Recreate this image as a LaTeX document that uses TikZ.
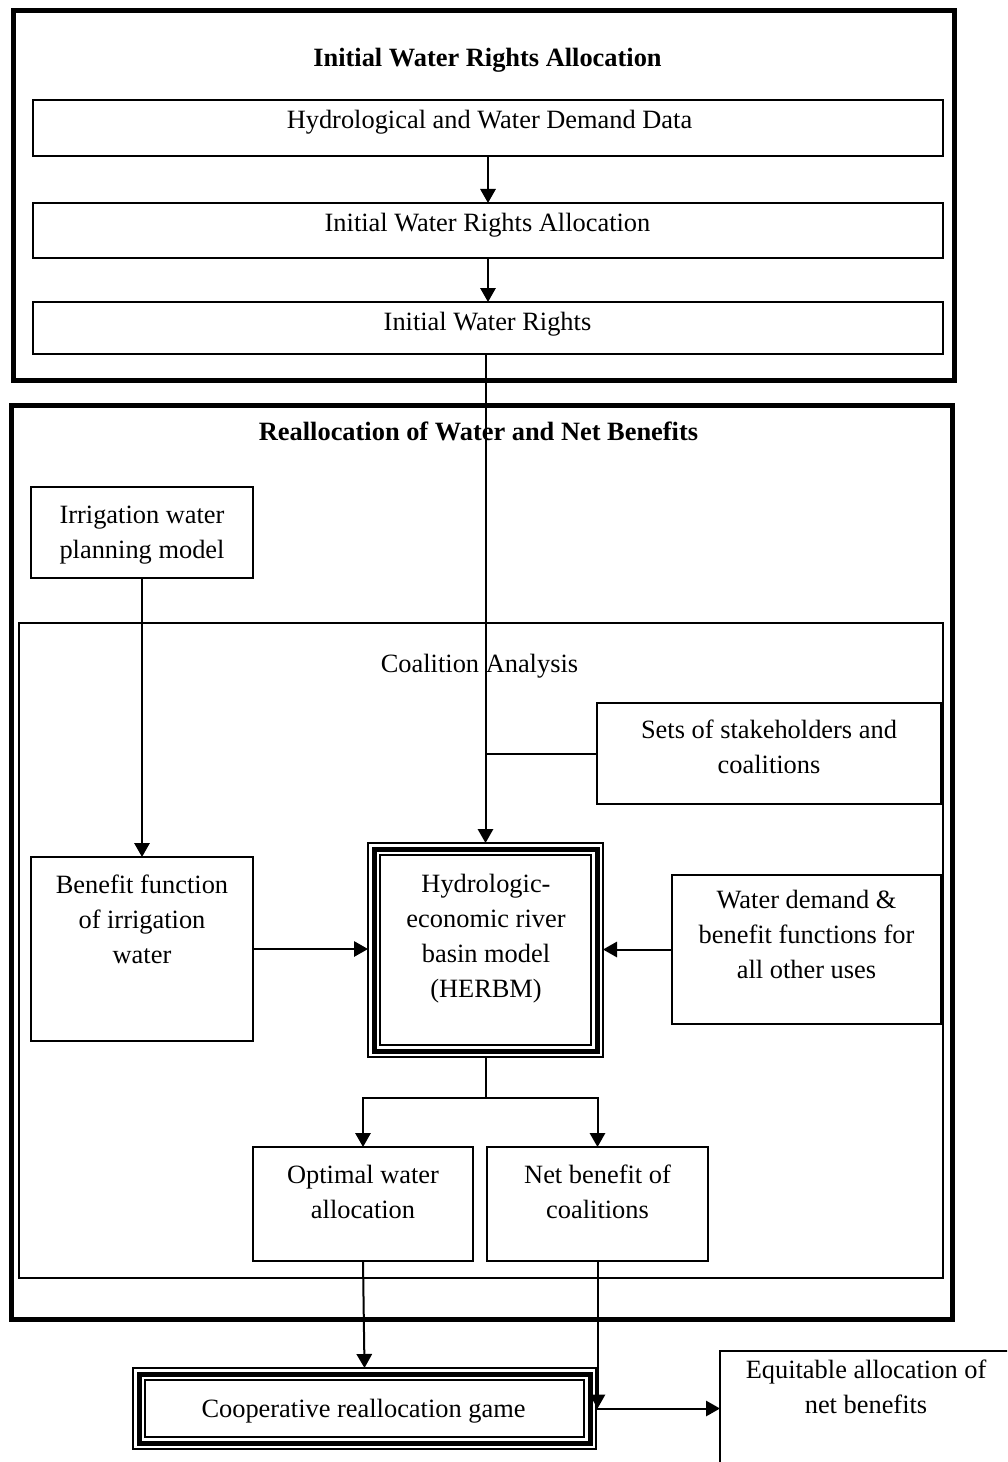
\documentclass[tikz,border=0pt]{standalone}
\usepackage{fontspec}
\setmainfont{Liberation Serif}
\usetikzlibrary{arrows.meta}
\newcommand{\fsz}{\fontsize{19.8}{26.25}\selectfont}
\begin{document}
\begin{tikzpicture}[x=0.75pt,y=-0.75pt,
  box/.style={draw, line width=1.5pt, inner sep=0pt, outer sep=0pt},
  frame/.style={draw, line width=3.75pt, inner sep=0pt, outer sep=0pt},
  thickline/.style={line width=3.75pt},
  thinline/.style={line width=1.9pt},
  txt/.style={font=\fsz, align=center, inner sep=0pt, anchor=north},
  ttl/.style={font=\fsz\bfseries, inner sep=0pt, anchor=base},
  arr/.style={line width=1.5pt, -{Triangle[width=11.5pt,length=10.5pt]}},
  ln/.style={line width=1.5pt},
  sz/.style 2 args={minimum width={#1*0.75pt}, minimum height={#2*0.75pt}}
]
\fill[white] (0,0) rectangle (1007,1462);
\clip (0,0) rectangle (1007,1462);

% frames
\node[frame, sz={941}{370}] (topF) at (484,195.5) {};
\node[frame, sz={941}{913.5}] (reF) at (482,862.25) {};
\node[box, sz={924}{655}] (coal) at (481,950.5) {};

% titles
\node[ttl] (t1) at (487.5,67) {Initial Water Rights Allocation};
\node[ttl] (t2) at (478.5,440) {Reallocation of Water and Net Benefits};

% boxes
\node[box, sz={910}{56}] (hyd) at (488,128) {};
\node[box, sz={910}{55}] (iwra) at (488,230.5) {};
\node[box, sz={910}{52}] (iwr) at (488,328) {};
\node[box, sz={222}{91}] (irr) at (142,532.5) {};
\node[box, sz={344}{101}] (sets) at (769,753.5) {};
\node[box, sz={222}{184}] (ben) at (142,949) {};
\node[box, sz={235}{214}] (herbm) at (485.5,950) {};
\node[box, sz={269}{149}] (wd) at (806.5,949.5) {};
\node[box, sz={220}{114}] (opt) at (363,1204) {};
\node[box, sz={221}{114}] (net) at (597.5,1204) {};
\node[box, sz={463}{81}] (coop) at (364.5,1408.5) {};
\node[box, sz={292}{149}] (eq) at (866,1425.5) {};

% triple borders
\draw[thickline] ([shift={(6,6)}]herbm.north west) rectangle ([shift={(-6,-6)}]herbm.south east);
\draw[thinline] ([shift={(12,12)}]herbm.north west) rectangle ([shift={(-12,-12)}]herbm.south east);
\draw[thickline] ([shift={(6,6)}]coop.north west) rectangle ([shift={(-6,-6)}]coop.south east);
\draw[thinline] ([shift={(12,12)}]coop.north west) rectangle ([shift={(-12,-12)}]coop.south east);

% texts
\node[txt] (hydT) at (489.5,103.5) {\strut Hydrological and Water Demand Data};
\node[txt] (iwraT) at (487.5,206.5) {\strut Initial Water Rights Allocation};
\node[txt] (iwrT) at (487.5,305.5) {\strut Initial Water Rights};
\node[txt] (irrT) at (142,498.5) {\strut Irrigation water\\planning model};
\node[txt] (coalT) at (479.5,647.5) {\strut Coalition Analysis};
\node[txt] (setsT) at (769,713.5) {\strut Sets of stakeholders and\\coalitions};
\node[txt] (benT) at (142,868.5) {\strut Benefit function\\of irrigation\\water};
\node[txt] (herbmT) at (486,867.5) {\strut Hydrologic-\\economic river\\basin model\\(HERBM)};
\node[txt] (wdT) at (806.5,883.5) {\strut Water demand \&\\benefit functions for\\all other uses};
\node[txt] (optT) at (363,1158.5) {\strut Optimal water\\allocation};
\node[txt] (netT) at (597.5,1158.5) {\strut Net benefit of\\coalitions};
\node[txt] (coopT) at (363.5,1392.5) {\strut Cooperative reallocation game};
\node[txt] (eqT) at (866,1353.5) {\strut Equitable allocation of\\net benefits};

% connectors
\draw[arr] (hyd.south) -- (iwra.north);
\draw[arr] (iwra.south) -- (iwr.north);
\draw[arr] (herbm.north |- iwr.south) -- (herbm.north);
\draw[ln] (sets.west) -- (sets.west -| herbm.north);
\draw[arr] (irr.south) -- (ben.north);
\draw[arr] (ben.east) -- (ben.east -| herbm.west);
\draw[arr] (wd.west) -- (wd.west -| herbm.east);
\draw[ln] (herbm.south) -- ++(0,41) coordinate (split);
\draw[arr] (split) -| (opt.north);
\draw[arr] (split) -| (net.north);
\draw[arr] (opt.south) -- (coop.north);
\draw[arr] (net.south) -- (net.south |- coop.east);
\draw[arr] (coop.east) -- (coop.east -| eq.west);
\end{tikzpicture}
\end{document}
